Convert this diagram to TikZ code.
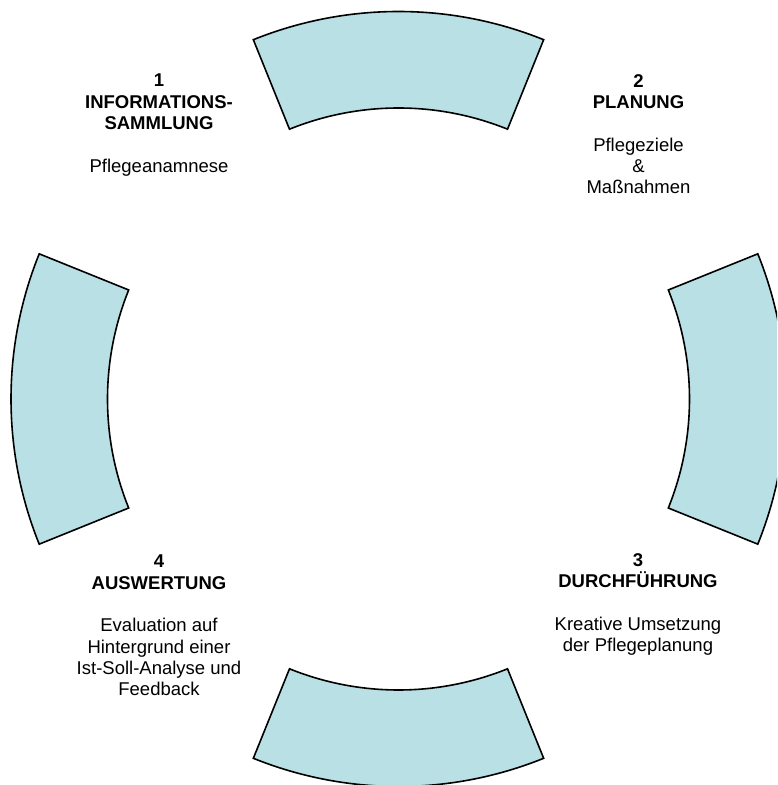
\documentclass[tikz,border=0pt]{standalone}
\usepackage{fontspec}
\setmainfont{Liberation Sans}
\definecolor{segfill}{RGB}{185,224,228}
\begin{document}
\begin{tikzpicture}[x=1pt,y=1pt,
  segm/.style={fill=segfill, draw=black, line width=1.6pt, line join=miter},
  txt/.style={align=center, anchor=north, inner sep=0pt, font=\fontsize{18.5}{21.3}\selectfont}]
\useasboundingbox (0,0) rectangle (777,785);
\clip (0,0) rectangle (777,785);
\coordinate (C) at (398.5,386);
\foreach \a [evaluate=\a as \s using \a-22, evaluate=\a as \e using \a+22] in {0,90,180,270} {
  \draw[segm] ([shift={(C)}]\s:291) arc[start angle=\s, end angle=\e, radius=291]
     -- ([shift={(C)}]\e:387.5) arc[start angle=\e, end angle=\s, radius=387.5] -- cycle;
}
\node[txt] (n1) at (159,711) {\textbf{1}\\\textbf{INFORMATIONS-}\\\textbf{SAMMLUNG}\\[21.3pt]Pflegeanamnese};
\node[txt] (n2) at (638.5,711) {\textbf{2}\\\textbf{PLANUNG}\\[21.3pt]Pflegeziele\\\&\\Maßnahmen};
\node[txt] (n3) at (638,232) {\textbf{3}\\\textbf{DURCHFÜHRUNG}\\[21.3pt]Kreative Umsetzung\\der Pflegeplanung};
\node[txt] (n4) at (159,230) {\textbf{4}\\\textbf{AUSWERTUNG}\\[21.3pt]Evaluation auf\\Hintergrund einer\\Ist-Soll-Analyse und\\Feedback};
\end{tikzpicture}
\end{document}
